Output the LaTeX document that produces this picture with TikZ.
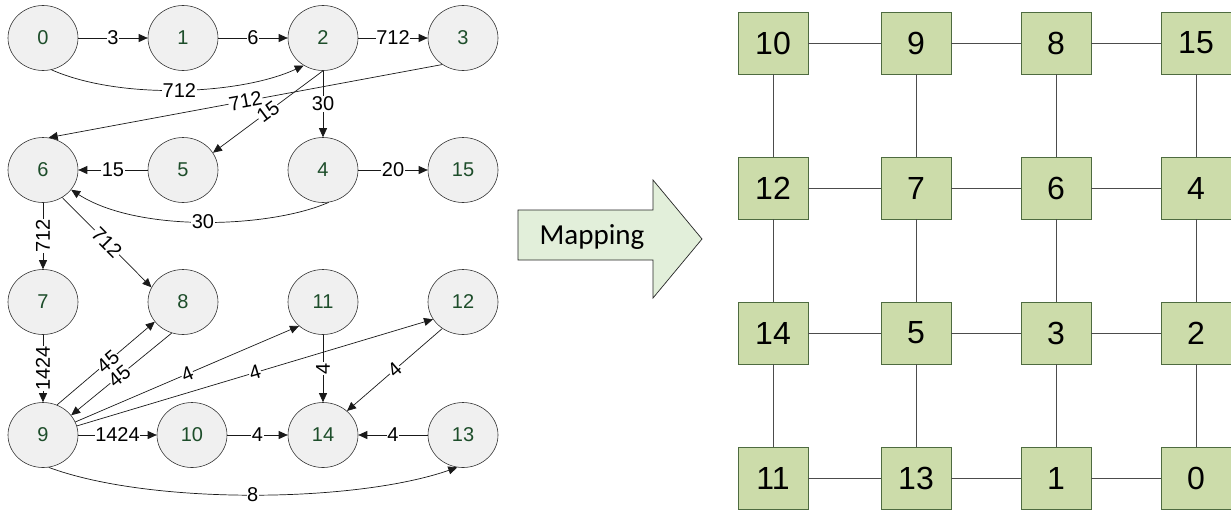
\documentclass[tikz,border=0pt]{standalone}
\usepackage{fontspec}
\setmainfont{Liberation Sans}
\newfontfamily\calib{Carlito}
\usetikzlibrary{shapes.geometric,arrows.meta}
\definecolor{nodefill}{HTML}{F0F0F0}
\definecolor{nodetext}{HTML}{1D4D2A}
\definecolor{gridfill}{HTML}{CCDCAA}
\definecolor{gridborder}{HTML}{4E6B40}
\definecolor{mapfill}{HTML}{E2EFDA}
\tikzset{
  gnode/.style={ellipse, draw=black!80, line width=0.6pt, fill=nodefill, minimum width=70pt, minimum height=65pt, inner sep=0pt, text=nodetext, font=\fontsize{20}{22}\selectfont},
  edge/.style={draw=black!90, line width=0.7pt, -{Triangle[length=9pt,width=8pt]}},
  lab/.style={fill=white, inner sep=0.5pt, text=black, font=\fontsize{20}{22}\selectfont},
  sq/.style={rectangle, draw=gridborder, line width=0.7pt, fill=gridfill, minimum width=70pt, minimum height=62pt, inner sep=0pt, font=\fontsize{32}{34}\selectfont},
  gline/.style={draw=black!70, line width=0.7pt},
}
\begin{document}
\begin{tikzpicture}[x=1pt,y=-1pt]
\useasboundingbox (0,0) rectangle (1231,512);
% left graph nodes
\node[gnode] (n0) at (43,38) {0};
\node[gnode] (n1) at (183,38) {1};
\node[gnode] (n2) at (323,38) {2};
\node[gnode] (n3) at (463,38) {3};
\node[gnode] (n6) at (43,170) {6};
\node[gnode] (n5) at (183,170) {5};
\node[gnode] (n4) at (323,170) {4};
\node[gnode] (n15) at (463,170) {15};
\node[gnode] (n7) at (43,302) {7};
\node[gnode] (n8) at (183,302) {8};
\node[gnode] (n11) at (323,302) {11};
\node[gnode] (n12) at (463,302) {12};
\node[gnode] (n9) at (43,435) {9};
\node[gnode] (n10) at (192,435) {10};
\node[gnode] (n14) at (323,435) {14};
\node[gnode] (n13) at (463,435) {13};
% edges
\draw[edge] (n0) -- node[lab]{3} (n1);
\draw[edge] (n1) -- node[lab]{6} (n2);
\draw[edge] (n2) -- node[lab]{712} (n3);
\draw[edge] (n0.-75) .. controls (120,100) and (240,95) .. node[lab]{712} (n2.-125);
\draw[edge] (n3.-128) -- node[lab,sloped]{712} (n6.80);
\draw[edge] (n2.south) -- node[lab,sloped]{15} (n5.30);
\draw[edge] (n2.south) -- node[lab]{30} (n4.north);
\draw[edge] (n5) -- node[lab]{15} (n6);
\draw[edge] (n4) -- node[lab]{20} (n15);
\draw[edge] (n4.-80) .. controls (270,228) and (138,233) .. node[lab]{30} (n6.-35);
\draw[edge] (n6.south) -- node[lab,rotate=90]{712} (n7.north);
\draw[edge] (n6.-55) -- node[lab,sloped]{712} (n8.155);
\draw[edge] (n7.south) -- node[lab,rotate=90]{1424} (n9.north);
\draw[edge] (n9.65) -- node[lab,sloped,pos=0.52]{45} (n8.-145);
\draw[edge] (n8.-110) -- node[lab,sloped,pos=0.52]{45} (n9.35);
\draw[edge] (n9.22) -- node[lab,sloped]{4} (n11.-135);
\draw[edge] (n9.15) -- node[lab,sloped]{4} (n12.-150);
\draw[edge] (n11.south) -- node[lab,rotate=90]{4} (n14.north);
\draw[edge] (n12.-128) -- node[lab,sloped]{4} (n14.45);
\draw[edge] (n9) -- node[lab]{1424} (n10);
\draw[edge] (n10) -- node[lab]{4} (n14);
\draw[edge] (n13) -- node[lab]{4} (n14);
\draw[edge] (n9.-80) .. controls (150,505) and (355,503) .. node[lab]{8} (n13.-100);
% mapping arrow
\draw[fill=mapfill, draw=black!85, line width=0.7pt] (518,210) -- (653,210) -- (653,180) -- (702,239) -- (653,298) -- (653,260) -- (518,260) -- cycle;
\node[font=\calib\fontsize{29}{31}\selectfont] (map) at (592,237) {Mapping};
% grid
\foreach \name/\txt/\x/\y in {
  g10/10/773/43, g9/9/916/43, g8/8/1056/43, g15/15/1196/43,
  g12/12/773/188, g7/7/916/188, g6/6/1056/188, g4/4/1196/188,
  g14/14/773/333, g5/5/916/333, g3/3/1056/333, g2/2/1196/333,
  g11/11/773/478, g13/13/916/478, g1/1/1056/478, g0/0/1196/478}
  \node[sq] (\name) at (\x,\y) {\txt};
\foreach \a/\b in {g10/g9, g9/g8, g8/g15, g12/g7, g7/g6, g6/g4, g14/g5, g5/g3, g3/g2, g11/g13, g13/g1, g1/g0,
  g10/g12, g12/g14, g14/g11, g9/g7, g7/g5, g5/g13, g8/g6, g6/g3, g3/g1, g15/g4, g4/g2, g2/g0}
  \draw[gline] (\a) -- (\b);
\end{tikzpicture}
\end{document}
